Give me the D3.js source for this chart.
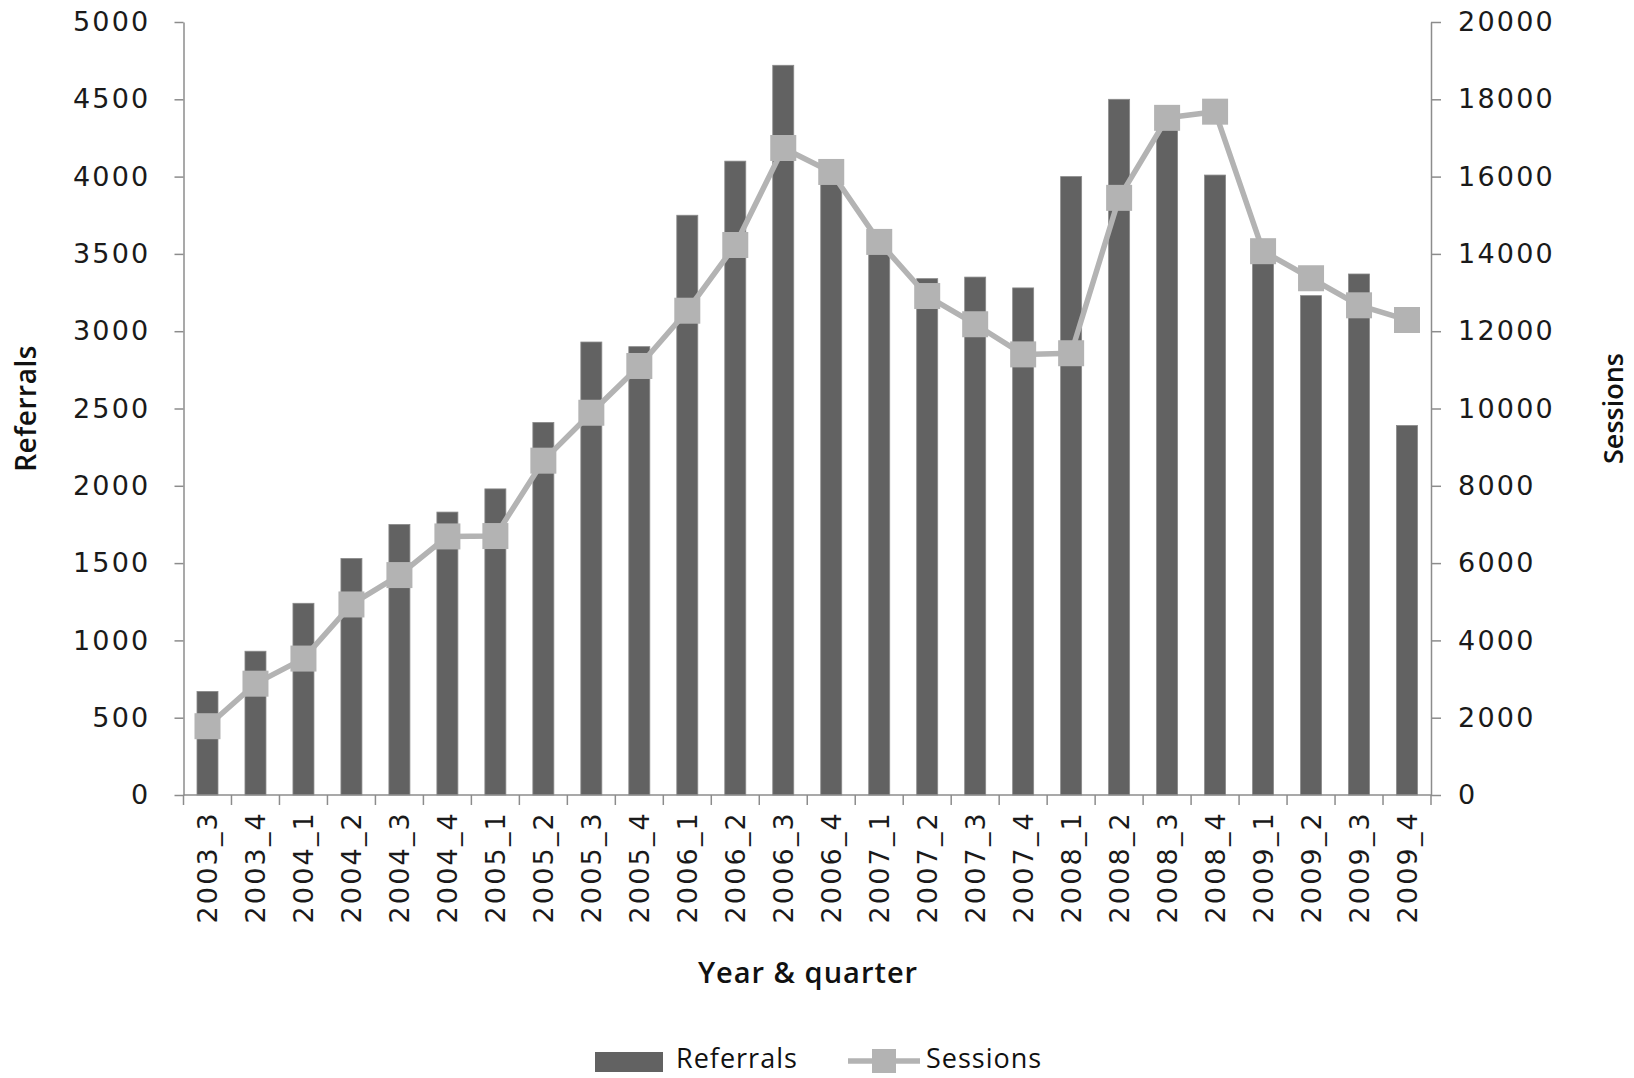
<!DOCTYPE html>
<html>
<head>
<meta charset="utf-8">
<script src="https://cdn.jsdelivr.net/npm/d3@7"></script>
<style>
  html, body { margin: 0; padding: 0; background: #fff; }
  svg { display: block; }
</style>
</head>
<body>
<svg id="chart" width="1634" height="1078"></svg>
<script>
const categories = ["2003_3","2003_4","2004_1","2004_2","2004_3","2004_4","2005_1","2005_2","2005_3","2005_4",
  "2006_1","2006_2","2006_3","2006_4","2007_1","2007_2","2007_3","2007_4","2008_1","2008_2","2008_3","2008_4",
  "2009_1","2009_2","2009_3","2009_4"];
const referrals = [670, 930, 1240, 1530, 1750, 1830, 1980, 2410, 2930, 2900,
  3750, 4100, 4720, 4000, 3550, 3340, 3350, 3280, 4000, 4500, 4350, 4010,
  3450, 3230, 3370, 2390];
const sessions = [1780, 2880, 3530, 4930, 5690, 6690, 6700, 8650, 9890, 11100,
  12530, 14230, 16740, 16120, 14310, 12910, 12180, 11400, 11430, 15450, 17520, 17680,
  14070, 13370, 12670, 12290];
const leftTicks = [0, 500, 1000, 1500, 2000, 2500, 3000, 3500, 4000, 4500, 5000];
const rightTicks = [0, 2000, 4000, 6000, 8000, 10000, 12000, 14000, 16000, 18000, 20000];
const seriesNames = ["Referrals", "Sessions"];

const svg = d3.select("#chart");
const L = 183.5, R = 1431, T = 22, B = 795;
const tickFont = "'DejaVu Sans', Verdana, sans-serif";
const axisColor = "#8c8c8c";
const barColor = "#626262";
const lineColor = "#b3b3b3";

const x = d3.scaleBand().domain(categories).range([L, R]).paddingInner(0).paddingOuter(0);
const yL = d3.scaleLinear().domain([0, 5000]).range([B, T]);
const yR = d3.scaleLinear().domain([0, 20000]).range([B, T]);

// Bars
const barW = 21;
svg.append("g").selectAll("rect").data(categories).join("rect")
  .attr("x", (d) => x(d) + (x.bandwidth() - barW) / 2)
  .attr("y", (d, i) => yL(referrals[i]))
  .attr("width", barW)
  .attr("height", (d, i) => B - yL(referrals[i]))
  .attr("fill", barColor)
  .attr("stroke", "#8a8a8a")
  .attr("stroke-width", 0.8);

// Left axis
const gL = svg.append("g").attr("transform", `translate(${L},0)`)
  .call(d3.axisLeft(yL).tickValues(leftTicks).tickSize(9).tickSizeOuter(0).tickPadding(24).tickFormat(d3.format("d")));
// Right axis
const gR = svg.append("g").attr("transform", `translate(${R},0)`)
  .call(d3.axisRight(yR).tickValues(rightTicks).tickSize(10).tickSizeOuter(0).tickPadding(17).tickFormat(d3.format("d")));
// Bottom axis (labels)
const gB = svg.append("g").attr("transform", `translate(0,${B})`)
  .call(d3.axisBottom(x).tickSize(0).tickSizeOuter(0));
// boundary ticks
const bounds = categories.map((c) => x(c)).concat([R]);
gB.selectAll(".btick").data(bounds).join("line").attr("class", "btick")
  .attr("x1", (d) => d).attr("x2", (d) => d).attr("y1", 0).attr("y2", 10)
  .attr("stroke", axisColor).attr("stroke-width", 1.5);

[gL, gR, gB].forEach((g) => {
  g.select(".domain").attr("stroke", axisColor).attr("stroke-width", 1.5);
  g.selectAll(".tick line").attr("stroke", axisColor).attr("stroke-width", 1.5);
  g.selectAll(".tick text").attr("fill", "#1a1a1a")
    .style("font-family", tickFont).style("font-size", "27px").style("letter-spacing", "2.2px");
});
gB.select(".domain").attr("d", `M${L},0H${R}`);
gB.selectAll(".tick text")
  .attr("transform", "rotate(-90)")
  .attr("text-anchor", "end")
  .attr("x", -16).attr("y", 0).attr("dy", "0.36em");

// Sessions line
const line = d3.line().x((d, i) => x(categories[i]) + x.bandwidth() / 2).y((d) => yR(d));
svg.append("path").datum(sessions).attr("d", line)
  .attr("fill", "none").attr("stroke", lineColor).attr("stroke-width", 5.5).attr("stroke-linejoin", "round");
const mk = 26;
svg.append("g").selectAll("rect").data(sessions).join("rect")
  .attr("x", (d, i) => x(categories[i]) + x.bandwidth() / 2 - mk / 2)
  .attr("y", (d) => yR(d) - mk / 2)
  .attr("width", mk).attr("height", mk)
  .attr("fill", lineColor);

// Axis titles
const titleFont = "'Open Sans', sans-serif";
svg.append("text").text("Referrals")
  .attr("transform", `translate(36,${(T + B) / 2}) rotate(-90)`)
  .attr("text-anchor", "middle")
  .style("font-family", titleFont).style("font-weight", "600").style("font-size", "28px")
  .style("letter-spacing", "0.5px").attr("fill", "#111");
svg.append("text").text("Sessions")
  .attr("transform", `translate(1623,${(T + B) / 2}) rotate(-90)`)
  .attr("text-anchor", "middle")
  .style("font-family", titleFont).style("font-weight", "600").style("font-size", "27px").attr("fill", "#111");
svg.append("text").text("Year & quarter")
  .attr("x", 808).attr("y", 983)
  .attr("text-anchor", "middle")
  .style("font-family", titleFont).style("font-weight", "600").style("font-size", "29px")
  .style("letter-spacing", "1px").attr("fill", "#111");

// Legend
const lg = svg.append("g");
lg.append("rect").attr("x", 595).attr("y", 1052).attr("width", 68).attr("height", 20).attr("fill", barColor);
lg.append("text").text(seriesNames[0]).attr("x", 676).attr("y", 1068)
  .style("font-family", titleFont).style("font-size", "27px").style("letter-spacing", "1px").attr("fill", "#111");
lg.append("line").attr("x1", 848).attr("x2", 920).attr("y1", 1061).attr("y2", 1061)
  .attr("stroke", lineColor).attr("stroke-width", 5.5);
lg.append("rect").attr("x", 872).attr("y", 1049).attr("width", 24).attr("height", 24).attr("fill", lineColor);
lg.append("text").text(seriesNames[1]).attr("x", 926).attr("y", 1068)
  .style("font-family", titleFont).style("font-size", "27px").style("letter-spacing", "1px").attr("fill", "#111");
</script>
</body>
</html>
